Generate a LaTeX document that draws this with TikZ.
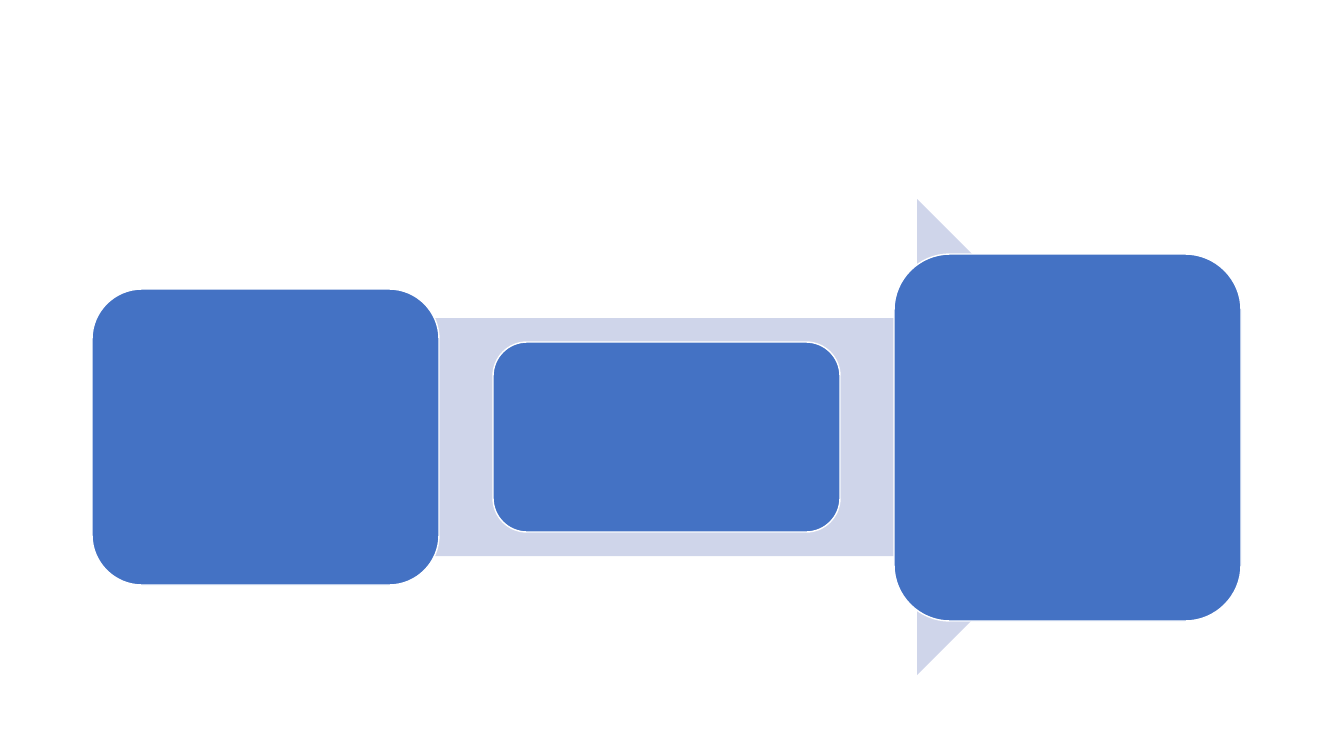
\documentclass[tikz,border=0pt]{standalone}
\usetikzlibrary{positioning}
\definecolor{boxblue}{HTML}{4472C4}
\definecolor{arrowgray}{HTML}{CFD5EA}
\begin{document}
\begin{tikzpicture}[x=0.5pt,y=-0.5pt,
    stage/.style={draw=white,line width=0.7pt,fill=boxblue,inner sep=0pt,outer sep=0pt,
        minimum width=173.5pt}]

            \useasboundingbox (0,0) rectangle (1333,750);

            % background arrow
            \fill[arrowgray] (150,318) -- (917,318) -- (917,199) -- (1155,437)
                -- (917,675) -- (917,556) -- (150,556) -- cycle;

            \node[stage,minimum height=148pt,rounded corners=25pt] (s1) at (265.5,437) {};

            \node[stage,minimum height=95pt,rounded corners=17pt] (s2) at (666.5,437) {};

            \node[stage,minimum height=183.5pt,rounded corners=28pt] (s3) at (1067.5,437.5) {};

        \end{tikzpicture}
\end{document}
